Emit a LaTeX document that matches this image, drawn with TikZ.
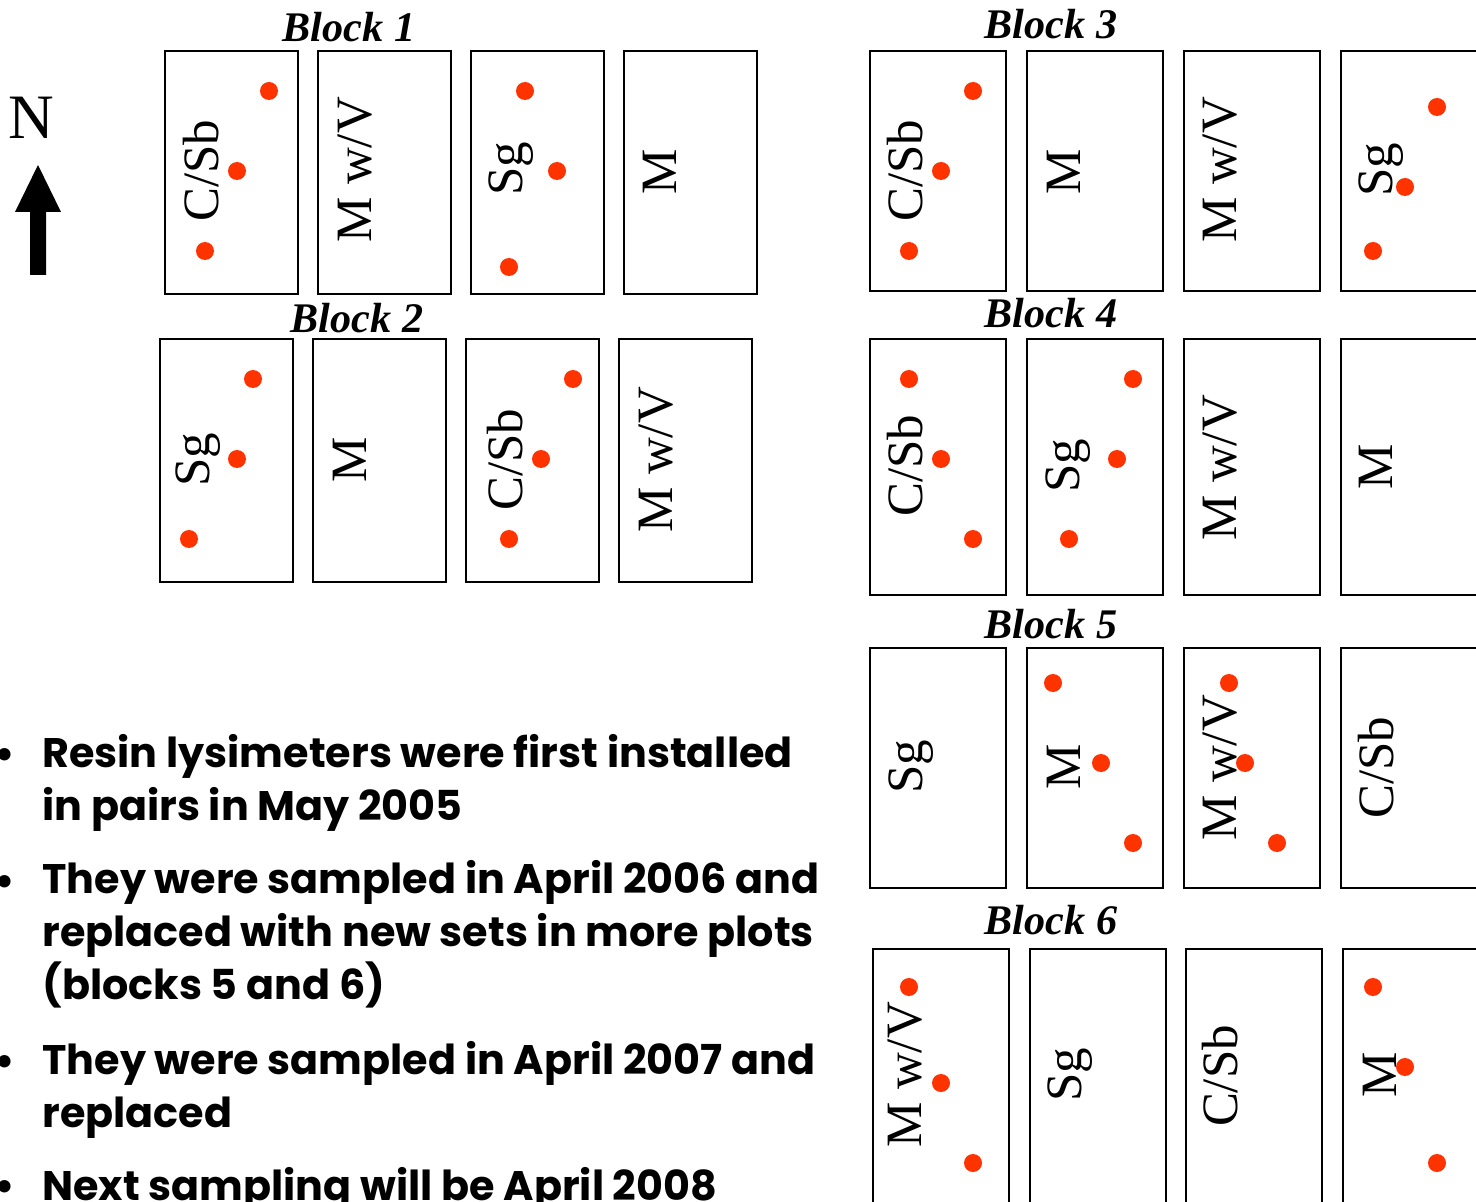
\documentclass[tikz,border=0pt]{standalone}
\usepackage{fontspec}
\setmainfont{Liberation Serif}
\newfontfamily\notefont{Poppins}
\usetikzlibrary{positioning}
\definecolor{dotred}{RGB}{255,51,0}
\tikzset{
  plot/.style={line width=0.9pt},
  plotlabel/.style={rotate=90, font=\fontsize{29}{29}\selectfont, inner sep=0pt},
  blocktitle/.style={font=\fontsize{24}{24}\selectfont\bfseries\itshape, inner sep=0pt},
  lysimeter/.style={fill=dotred},
  note/.style={font=\notefont\bfseries\fontsize{23.5}{30}\selectfont, align=left, anchor=base west, inner sep=0pt},
}

\begin{document}
\begin{tikzpicture}[x=0.02cm, y=-0.02cm]
\useasboundingbox (0,0) rectangle (1476,1202);
\clip (0,0) rectangle (1476,1202);

% North arrow
\node[font=\fontsize{36}{36}\selectfont, inner sep=0pt] (north) at (31,118) {N};
\fill (38,165) -- (61,212) -- (46,212) -- (46,275) -- (30,275) -- (30,212) -- (15,212) -- cycle;

% Block 1
\node[blocktitle] (block1) at (349,27) {Block 1};
\foreach \x in {165,318,471,624} \draw[plot] (\x,51) rectangle ++(133,243);
\node[plotlabel] (b1csb) at (201,171) {C/Sb};
\node[plotlabel] (b1mwv) at (355,170) {M w/V};
\node[plotlabel] (b1sg) at (511,169) {Sg};
\node[plotlabel] (b1m) at (660,172) {M};
\foreach \p in {(269,91),(237,171),(205,251),(525,91),(557,171),(509,267)}
  \fill[lysimeter] \p circle (0.18cm);

% Block 2
\node[blocktitle] (block2) at (357,318) {Block 2};
\foreach \x in {160,313,466,619} \draw[plot] (\x,339) rectangle ++(133,243);
\node[plotlabel] (b2sg) at (198,460) {Sg};
\node[plotlabel] (b2m) at (350,460) {M};
\node[plotlabel] (b2csb) at (505,460) {C/Sb};
\node[plotlabel] (b2mwv) at (656,460) {M w/V};
\foreach \p in {(253,379),(237,459),(189,539),(573,379),(541,459),(509,539)}
  \fill[lysimeter] \p circle (0.18cm);

% Block 3
\node[blocktitle] (block3) at (1051,24) {Block 3};
\foreach \x in {870,1027,1184} \draw[plot] (\x,51) rectangle ++(136,240);
\draw[plot] (1341,51) rectangle ++(150,240);
\node[plotlabel] (b3csb) at (905,171) {C/Sb};
\node[plotlabel] (b3m) at (1064,172) {M};
\node[plotlabel] (b3mwv) at (1220,170) {M w/V};
\node[plotlabel] (b3sg) at (1381,170) {Sg};
\foreach \p in {(973,91),(941,171),(909,251),(1437,107),(1405,187),(1373,251)}
  \fill[lysimeter] \p circle (0.18cm);

% Block 4
\node[blocktitle] (block4) at (1051,313) {Block 4};
\foreach \x in {870,1027,1184} \draw[plot] (\x,339) rectangle ++(136,256);
\draw[plot] (1341,339) rectangle ++(150,256);
\node[plotlabel] (b4csb) at (905,466) {C/Sb};
\node[plotlabel] (b4sg) at (1068,466) {Sg};
\node[plotlabel] (b4mwv) at (1220,468) {M w/V};
\node[plotlabel] (b4m) at (1376,467) {M};
\foreach \p in {(909,379),(941,459),(973,539),(1133,379),(1117,459),(1069,539)}
  \fill[lysimeter] \p circle (0.18cm);

% Block 5
\node[blocktitle] (block5) at (1051,624) {Block 5};
\foreach \x in {870,1027,1184} \draw[plot] (\x,648) rectangle ++(136,240);
\draw[plot] (1341,648) rectangle ++(150,240);
\node[plotlabel] (b5sg) at (911,767) {Sg};
\node[plotlabel] (b5m) at (1064,767) {M};
\node[plotlabel] (b5mwv) at (1220,768) {M w/V};
\node[plotlabel] (b5csb) at (1376,768) {C/Sb};
\foreach \p in {(1053,683),(1101,763),(1133,843),(1229,683),(1245,763),(1277,843)}
  \fill[lysimeter] \p circle (0.18cm);

% Block 6
\node[blocktitle] (block6) at (1051,920) {Block 6};
\foreach \x in {873,1030,1186} \draw[plot] (\x,949) rectangle ++(136,270);
\draw[plot] (1343,949) rectangle ++(150,270);
\node[plotlabel] (b6mwv) at (905,1075) {M w/V};
\node[plotlabel] (b6sg) at (1070,1075) {Sg};
\node[plotlabel] (b6csb) at (1220,1076) {C/Sb};
\node[plotlabel] (b6m) at (1380,1075) {M};
\foreach \p in {(909,987),(941,1083),(973,1163),(1373,987),(1405,1067),(1437,1163)}
  \fill[lysimeter] \p circle (0.18cm);

% Notes (base anchor sits on the last line)
\foreach \y in {768,895,1075,1200}
  \node[note] at (-6,\y) {\textbullet};
\node[note] (note1) at (42,820) {Resin lysimeters were first installed\\in pairs in May 2005};
\node[note] (note2) at (42,999) {They were sampled in April 2006 and\\replaced with new sets in more plots\\(blocks 5 and 6)};
\node[note] (note3) at (42,1127) {They were sampled in April 2007 and\\replaced};
\node[note] (note4) at (42,1200) {Next sampling will be April 2008};
\end{tikzpicture}
\end{document}
